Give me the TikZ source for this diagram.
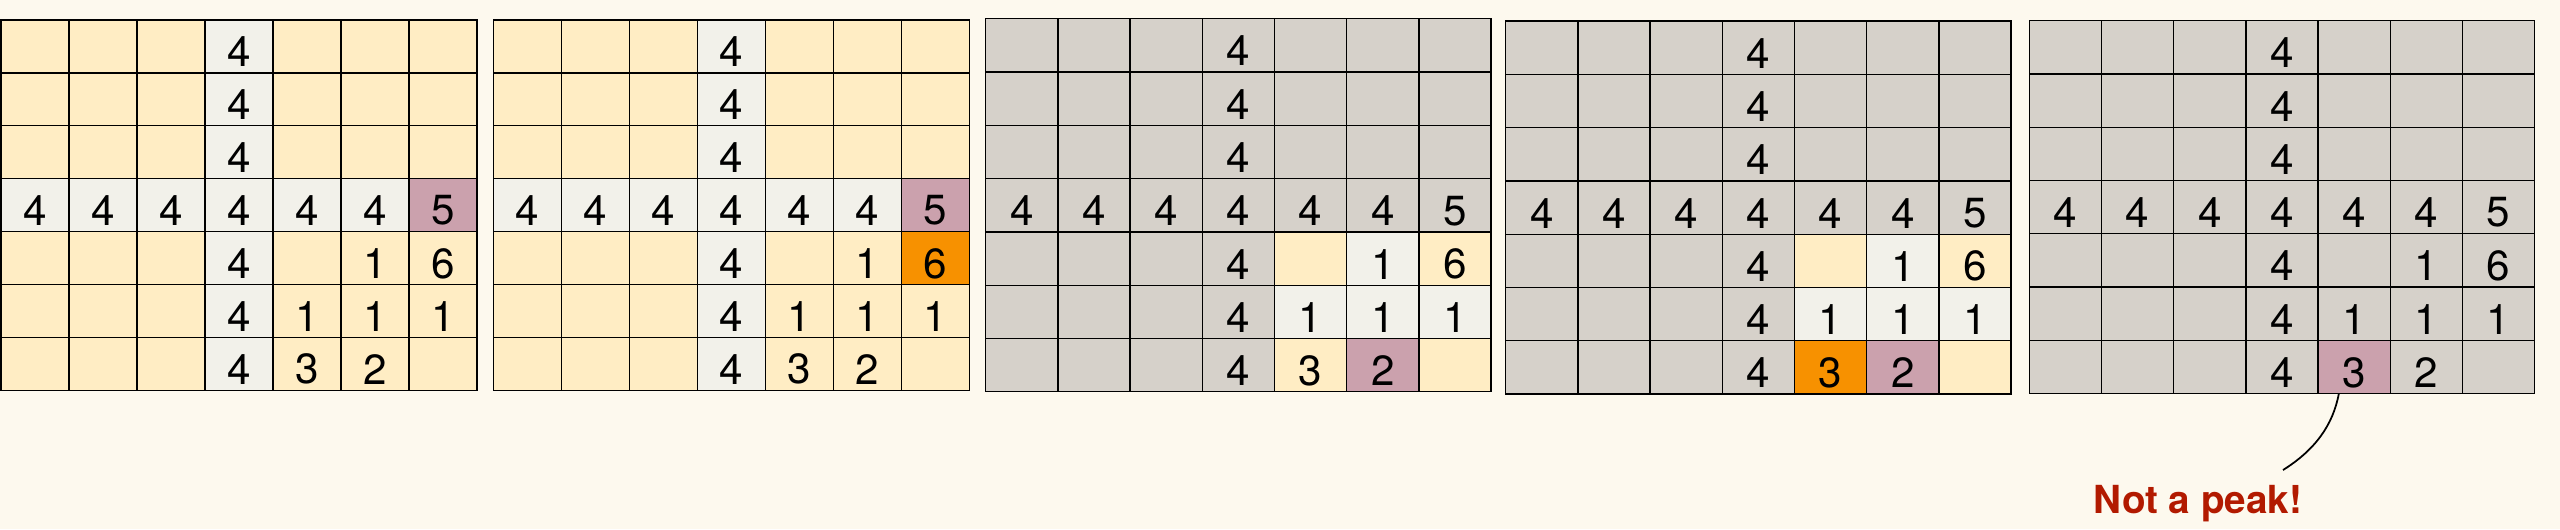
\documentclass[tikz,border=0pt]{standalone}
\usepackage{fontspec}
\setmainfont{TeX Gyre Heros}
\usepackage{tikz}
\usepackage{color}

\definecolor{cream}{RGB}{253,249,238}
\definecolor{cY}{RGB}{255,237,196}
\definecolor{cL}{RGB}{242,241,234}
\definecolor{cP}{RGB}{203,161,173}
\definecolor{cO}{RGB}{247,145,0}
\definecolor{cG}{RGB}{214,209,202}
\definecolor{warnred}{RGB}{178,26,0}

\begin{document}
\begin{tikzpicture}[x=0.02cm,y=-0.02cm]
            \tikzstyle{cell}=[draw=black,line width=0.7pt,inner sep=0pt,outer sep=0pt,anchor=north west]
            \tikzstyle{small cell}=[cell,minimum width=1.36cm,minimum height=1.058cm]
            \tikzstyle{wide cell}=[cell,minimum width=1.444cm,minimum height=1.066cm]
            \tikzstyle{digit}=[font=\fontsize{24}{28}\selectfont,inner sep=0pt,yshift=-0.11cm]
            \tikzstyle{warning}=[font=\fontsize{22}{26}\selectfont\bfseries,text=warnred,anchor=base,inner sep=0pt]

            \useasboundingbox (0,0) rectangle (2560,529);
            \fill[cream] (0,0) rectangle (2560,529);

            % first grid
            \foreach \r/\row in {0/{Y,Y,Y,L,Y,Y,Y},1/{Y,Y,Y,L,Y,Y,Y},2/{Y,Y,Y,L,Y,Y,Y},3/{L,L,L,L,L,L,P},
                                 4/{Y,Y,Y,L,Y,Y,Y},5/{Y,Y,Y,L,Y,Y,Y},6/{Y,Y,Y,L,Y,Y,Y}}
                \foreach \f [count=\c from 0] in \row
                    \node[small cell,fill=c\f] (g1-\r-\c) at ({1+\c*68},{20+\r*52.9}) {};

            % second grid
            \foreach \r/\row in {0/{Y,Y,Y,L,Y,Y,Y},1/{Y,Y,Y,L,Y,Y,Y},2/{Y,Y,Y,L,Y,Y,Y},3/{L,L,L,L,L,L,P},
                                 4/{Y,Y,Y,L,Y,Y,O},5/{Y,Y,Y,L,Y,Y,Y},6/{Y,Y,Y,L,Y,Y,Y}}
                \foreach \f [count=\c from 0] in \row
                    \node[small cell,fill=c\f] (g2-\r-\c) at ({493.3+\c*68},{20+\r*52.9}) {};

            % third grid
            \foreach \r/\row in {0/{G,G,G,G,G,G,G},1/{G,G,G,G,G,G,G},2/{G,G,G,G,G,G,G},3/{G,G,G,G,G,G,G},
                                 4/{G,G,G,G,Y,L,Y},5/{G,G,G,G,L,L,L},6/{G,G,G,G,Y,P,Y}}
                \foreach \f [count=\c from 0] in \row
                    \node[wide cell,fill=c\f] (g3-\r-\c) at ({985.7+\c*72.2},{18.7+\r*53.3}) {};

            % fourth grid
            \foreach \r/\row in {0/{G,G,G,G,G,G,G},1/{G,G,G,G,G,G,G},2/{G,G,G,G,G,G,G},3/{G,G,G,G,G,G,G},
                                 4/{G,G,G,G,Y,L,Y},5/{G,G,G,G,L,L,L},6/{G,G,G,G,O,P,Y}}
                \foreach \f [count=\c from 0] in \row
                    \node[wide cell,fill=c\f] (g4-\r-\c) at ({1505.7+\c*72.2},{21+\r*53.3}) {};

            % fifth grid
            \foreach \r/\row in {0/{G,G,G,G,G,G,G},1/{G,G,G,G,G,G,G},2/{G,G,G,G,G,G,G},3/{G,G,G,G,G,G,G},
                                 4/{G,G,G,G,G,G,G},5/{G,G,G,G,G,G,G},6/{G,G,G,G,P,G,G}}
                \foreach \f [count=\c from 0] in \row
                    \node[wide cell,fill=c\f] (g5-\r-\c) at ({2029.3+\c*72.2},{20.6+\r*53.3}) {};

            % the same heights in every grid
            \foreach \k in {1,...,5}
                \foreach \r/\c/\v in {0/3/4,1/3/4,2/3/4,3/0/4,3/1/4,3/2/4,3/3/4,3/4/4,3/5/4,3/6/5,
                                      4/3/4,4/5/1,4/6/6,5/3/4,5/4/1,5/5/1,5/6/1,6/3/4,6/4/3,6/5/2}
                    \node[digit] (n\k-\r-\c) at (g\k-\r-\c.center) {\v};

            \node[warning] (notpeak) at (2198,513) {Not a peak!};
            \coordinate (tail) at (2283,470);
            \draw[line width=1pt] (g5-6-4.-120) .. controls (2333,425) and (2315,450) .. (tail);
        \end{tikzpicture}
\end{document}
